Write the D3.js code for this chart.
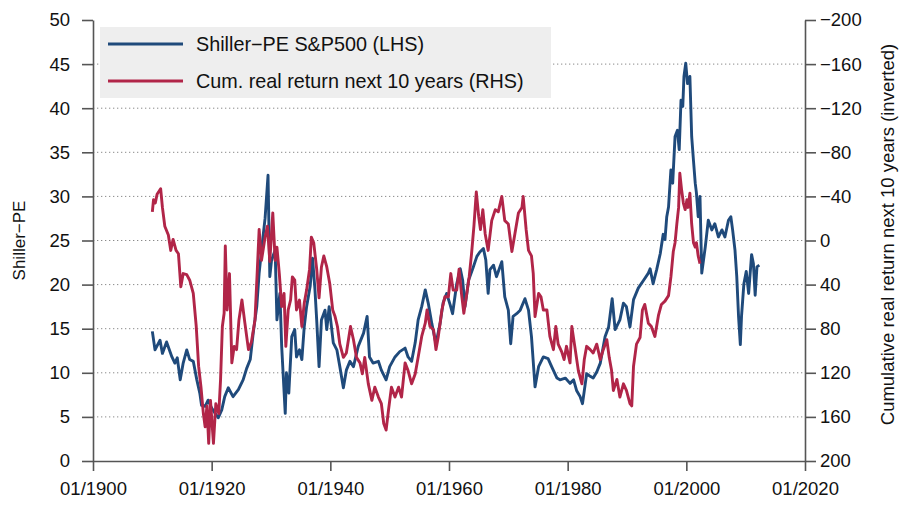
<!DOCTYPE html>
<html lang="en">
<head>
<meta charset="UTF-8">
<title>Shiller PE vs. next 10 years return</title>
<script src="https://d3js.org/d3.v7.min.js"></script>
<style>
  body { margin: 0; background: #fff; }
  text { font-family: "Liberation Sans", Arial, Helvetica, sans-serif; fill: #111; }
</style>
</head>
<body>
<svg id="chart" width="901" height="505"></svg>
<script>
// tick labels
const xTickYears = [1900, 1920, 1940, 1960, 1980, 2000, 2020];
const leftTicks = [0, 5, 10, 15, 20, 25, 30, 35, 40, 45, 50];
const rightTicks = [-200, -160, -120, -80, -40, 0, 40, 80, 120, 160, 200];

// Shiller-PE S&P500 (decimal year, PE)
const peYears = [1910.0, 1910.45, 1911.3, 1911.7, 1912.4, 1913.3, 1913.8, 1914.2, 1914.7, 1915.2, 1915.8, 1916.3, 1916.9, 1917.5, 1918.0, 1918.3, 1918.9, 1919.4, 1920.0, 1920.6, 1921.1, 1921.7, 1922.2, 1922.8, 1923.6, 1924.5, 1925.3, 1925.9, 1926.5, 1927.0, 1927.6, 1928.0, 1928.6, 1929.0, 1929.5, 1929.8, 1930.1, 1930.7, 1931.0, 1931.5, 1931.8, 1932.4, 1932.6, 1933.0, 1933.5, 1934.0, 1934.3, 1934.8, 1935.2, 1935.6, 1936.0, 1936.6, 1937.0, 1937.4, 1937.7, 1938.1, 1938.5, 1939.1, 1939.4, 1939.8, 1940.5, 1941.1, 1941.6, 1942.2, 1942.7, 1943.3, 1943.9, 1944.7, 1945.6, 1946.2, 1946.6, 1947.2, 1948.1, 1948.6, 1949.4, 1950.0, 1950.9, 1951.7, 1952.6, 1953.1, 1953.7, 1954.3, 1954.8, 1955.4, 1956.0, 1956.5, 1957.1, 1957.8, 1958.5, 1959.0, 1959.6, 1960.2, 1960.6, 1961.3, 1961.9, 1962.3, 1962.7, 1963.3, 1964.1, 1964.7, 1965.2, 1965.8, 1966.2, 1966.6, 1966.9, 1967.5, 1968.0, 1968.9, 1969.4, 1970.0, 1970.4, 1970.8, 1971.4, 1972.0, 1972.8, 1973.4, 1973.9, 1974.5, 1975.1, 1975.9, 1976.7, 1977.3, 1978.2, 1978.7, 1979.6, 1980.4, 1981.0, 1981.5, 1982.1, 1982.5, 1983.2, 1983.8, 1984.3, 1984.9, 1985.5, 1986.3, 1986.9, 1987.5, 1988.0, 1988.8, 1989.4, 1989.9, 1990.5, 1991.1, 1991.9, 1992.8, 1993.6, 1993.9, 1994.4, 1995.0, 1995.6, 1996.1, 1996.4, 1996.7, 1997.0, 1997.4, 1997.7, 1998.1, 1998.5, 1998.8, 1999.1, 1999.4, 1999.6, 1999.9, 2000.2, 2000.6, 2000.9, 2001.2, 2001.5, 2001.7, 2002.0, 2002.3, 2002.6, 2002.9, 2003.2, 2003.7, 2004.3, 2004.8, 2005.4, 2006.0, 2006.5, 2007.1, 2007.5, 2007.8, 2008.2, 2008.5, 2008.8, 2009.1, 2009.3, 2009.7, 2010.1, 2010.5, 2011.0, 2011.3, 2011.6, 2011.9, 2012.3];
const peValues = [14.7, 12.6, 13.7, 12.2, 13.5, 11.8, 11.1, 11.7, 9.2, 11.1, 12.6, 11.5, 11.3, 9.2, 7.7, 6.3, 6.2, 6.9, 6.0, 5.4, 4.9, 5.8, 7.3, 8.3, 7.3, 8.1, 9.2, 10.5, 11.5, 14.5, 17.5, 21.3, 25.1, 27.5, 32.4, 20.9, 22.8, 23.9, 16.0, 19.0, 13.0, 5.4, 10.0, 7.7, 14.1, 14.9, 11.8, 12.6, 11.5, 15.2, 17.5, 19.8, 23.0, 19.5, 16.0, 10.7, 16.0, 17.1, 14.9, 17.5, 13.4, 12.6, 10.7, 8.3, 10.3, 11.3, 10.7, 13.0, 14.5, 16.4, 11.8, 11.1, 11.3, 10.3, 9.2, 10.7, 11.8, 12.4, 12.8, 11.8, 11.3, 13.4, 16.0, 17.5, 19.4, 17.9, 15.6, 13.3, 15.6, 17.9, 19.0, 17.7, 16.7, 20.1, 21.8, 20.5, 17.5, 20.5, 22.0, 23.2, 23.7, 24.1, 22.8, 19.0, 21.7, 22.2, 20.9, 22.6, 18.6, 17.1, 13.3, 16.4, 16.7, 17.1, 18.4, 17.1, 14.1, 8.4, 10.7, 11.8, 11.6, 10.7, 9.4, 9.2, 9.4, 8.8, 9.2, 8.0, 7.3, 6.5, 9.9, 9.6, 9.4, 10.1, 11.1, 14.1, 15.2, 18.4, 14.9, 16.0, 17.9, 17.5, 15.2, 18.3, 19.6, 20.5, 21.3, 21.8, 20.1, 21.7, 23.5, 25.7, 25.1, 27.7, 28.8, 33.0, 31.5, 36.8, 37.5, 35.3, 40.9, 40.2, 43.6, 45.1, 42.8, 43.6, 36.8, 34.1, 31.5, 30.4, 27.7, 30.0, 21.3, 22.8, 24.3, 27.3, 26.2, 26.9, 25.4, 26.2, 25.4, 27.3, 27.7, 26.2, 23.9, 20.9, 16.4, 13.2, 16.4, 20.1, 21.5, 19.0, 23.4, 22.4, 18.8, 22.0, 22.2];

// cumulative real return over the next 10 years in %
const retYears = [1910.0, 1910.2, 1910.5, 1910.8, 1911.4, 1911.7, 1912.1, 1912.7, 1913.1, 1913.5, 1914.0, 1914.4, 1914.8, 1915.2, 1915.8, 1916.3, 1916.9, 1917.4, 1917.8, 1918.2, 1918.6, 1918.9, 1919.2, 1919.5, 1919.8, 1920.3, 1920.7, 1921.2, 1921.5, 1921.8, 1922.1, 1922.3, 1922.6, 1923.0, 1923.4, 1923.8, 1924.2, 1924.6, 1925.1, 1925.6, 1926.2, 1926.7, 1927.3, 1927.7, 1928.0, 1928.4, 1929.0, 1929.4, 1929.8, 1930.3, 1930.7, 1931.0, 1931.4, 1931.8, 1932.2, 1932.5, 1932.9, 1933.3, 1933.6, 1934.0, 1934.3, 1934.8, 1935.2, 1935.6, 1936.0, 1936.5, 1936.8, 1937.2, 1937.7, 1938.1, 1938.5, 1938.9, 1939.4, 1939.9, 1940.4, 1940.8, 1941.2, 1941.6, 1942.2, 1942.7, 1943.4, 1943.9, 1944.4, 1945.0, 1945.4, 1945.8, 1946.4, 1947.0, 1947.5, 1948.1, 1948.6, 1949.0, 1949.4, 1949.8, 1950.3, 1950.9, 1951.5, 1952.0, 1952.6, 1953.1, 1953.7, 1954.3, 1954.8, 1955.4, 1956.0, 1956.3, 1956.8, 1957.4, 1957.8, 1958.2, 1958.8, 1959.3, 1959.9, 1960.3, 1960.7, 1961.3, 1961.7, 1962.1, 1962.5, 1963.0, 1963.4, 1963.8, 1964.2, 1964.6, 1965.0, 1965.3, 1965.7, 1966.1, 1966.6, 1967.2, 1967.8, 1968.3, 1968.9, 1969.4, 1970.0, 1970.6, 1971.1, 1971.7, 1972.3, 1972.5, 1973.0, 1973.4, 1973.9, 1974.2, 1974.5, 1975.1, 1975.5, 1975.9, 1976.5, 1977.0, 1977.6, 1978.0, 1978.4, 1979.0, 1979.4, 1979.8, 1980.4, 1980.7, 1981.2, 1981.8, 1982.4, 1982.8, 1983.2, 1983.8, 1984.3, 1984.9, 1985.5, 1986.0, 1986.6, 1987.0, 1987.4, 1987.7, 1988.3, 1988.8, 1989.4, 1989.9, 1990.5, 1990.8, 1991.1, 1991.6, 1992.2, 1992.6, 1993.0, 1993.6, 1994.1, 1994.7, 1995.3, 1995.8, 1996.4, 1997.0, 1997.4, 1997.8, 1998.1, 1998.4, 1998.7, 1998.9, 1999.2, 1999.5, 1999.8, 2000.1, 2000.3, 2000.6, 2000.9, 2001.2, 2001.5, 2001.7, 2002.0, 2002.3];
const retValues = [-26, -37, -34, -42, -47, -30, -13, -5, 9, -1, 9, 12, 42, 30, 31, 36, 48, 78, 114, 133, 157, 169, 150, 184, 145, 184, 148, 157, 126, 78, 66, 5, 63, 30, 111, 96, 99, 72, 54, 75, 99, 92, 72, 26, -10, 18, -3, -13, 19, -25, 18, 6, 30, 60, 48, 96, 63, 54, 33, 36, 63, 54, 78, 57, 45, 26, -3, 2, 26, 52, 24, 14, 24, 39, 63, 69, 78, 94, 106, 102, 78, 90, 106, 111, 121, 106, 130, 145, 133, 142, 148, 166, 172, 154, 133, 142, 133, 142, 111, 118, 130, 121, 106, 87, 75, 63, 78, 81, 99, 87, 63, 51, 51, 30, 45, 45, 26, 48, 66, 48, 33, 12, -13, -44, -22, -10, -28, -6, 9, -18, -28, -26, -40, -18, -15, 10, -6, -25, -30, -40, -10, 9, 14, 30, 69, 48, 51, 63, 63, 87, 99, 78, 94, 101, 108, 96, 111, 78, 96, 118, 130, 108, 96, 99, 102, 94, 108, 99, 90, 106, 118, 136, 126, 142, 130, 136, 148, 150, 114, 94, 88, 63, 58, 75, 78, 87, 68, 58, 55, 50, 33, 10, 2, -15, -30, -61, -46, -34, -28, -37, -30, -43, -15, 2, 6, 2, 14, 21];

const seriesNames = ["Shiller\u2212PE S&P500 (LHS)", "Cum. real return next 10 years (RHS)"];
const colors = ["#1f4a7b", "#b12548"];

const svg = d3.select("#chart");
const plotLeft = 93, plotRight = 805, plotTop = 20, plotBottom = 461;

const x = d3.scaleLinear().domain([1900, 2020]).range([plotLeft, plotRight]);
const yL = d3.scaleLinear().domain([0, 50]).range([plotBottom, plotTop]);
const yR = d3.scaleLinear().domain([200, -200]).range([plotBottom, plotTop]);

// dotted grid
svg.append("g")
  .selectAll("line")
  .data(leftTicks.filter(d => d > 0 && d < 50))
  .join("line")
    .attr("x1", plotLeft).attr("x2", plotRight)
    .attr("y1", d => yL(d)).attr("y2", d => yL(d))
    .attr("stroke", "#8a8a8a")
    .attr("stroke-width", 1)
    .attr("stroke-dasharray", "1.3,2.7");

const axisColor = "#555";

function styleAxis(g) {
  g.selectAll(".domain").attr("stroke", axisColor).attr("stroke-width", 1.6);
  g.selectAll(".tick line").attr("stroke", axisColor).attr("stroke-width", 1.6);
  g.selectAll(".tick text").attr("fill", "#111").style("font-size", "18.5px")
    .style("font-family", '"Liberation Sans", Arial, sans-serif');
}

// left axis
svg.append("g")
  .attr("transform", `translate(${plotLeft},0)`)
  .call(d3.axisLeft(yL).tickValues(leftTicks).tickSize(11).tickPadding(12).tickSizeOuter(0))
  .call(styleAxis);

// right axis
svg.append("g")
  .attr("transform", `translate(${plotRight},0)`)
  .call(d3.axisRight(yR).tickValues(rightTicks).tickSize(11).tickPadding(4).tickSizeOuter(0)
    .tickFormat(d => d < 0 ? "\u2212" + Math.abs(d) : d))
  .call(styleAxis);

// bottom axis
svg.append("g")
  .attr("transform", `translate(0,${plotBottom})`)
  .call(d3.axisBottom(x).tickValues(xTickYears).tickSize(10).tickPadding(11).tickSizeOuter(0)
    .tickFormat(d => "01/" + d))
  .call(styleAxis);

// axis titles
svg.append("text")
  .attr("transform", `translate(25,${(plotTop + plotBottom) / 2}) rotate(-90)`)
  .attr("text-anchor", "middle")
  .style("font-size", "17px")
  .text("Shiller\u2212PE");

svg.append("text")
  .attr("transform", `translate(894,${(plotTop + plotBottom) / 2 - 6}) rotate(-90)`)
  .attr("text-anchor", "middle")
  .style("font-size", "18.5px")
  .text("Cumulative real return next 10 years (inverted)");

// lines
const peLine = d3.line()
  .x((d, i) => x(peYears[i]))
  .y(d => yL(d));
const retLine = d3.line()
  .x((d, i) => x(retYears[i]))
  .y(d => yR(d));

svg.append("path")
  .datum(peValues)
  .attr("fill", "none")
  .attr("stroke", colors[0])
  .attr("stroke-width", 2.9)
  .attr("stroke-linejoin", "round")
  .attr("d", peLine);

svg.append("path")
  .datum(retValues)
  .attr("fill", "none")
  .attr("stroke", colors[1])
  .attr("stroke-width", 2.9)
  .attr("stroke-linejoin", "round")
  .attr("d", retLine);

// legend
const legend = svg.append("g");
legend.append("rect")
  .attr("x", 100).attr("y", 27).attr("width", 451).attr("height", 71)
  .attr("fill", "#eeeeee");
seriesNames.forEach((name, i) => {
  const ly = 44 + i * 37;
  legend.append("line")
    .attr("x1", 108).attr("x2", 183).attr("y1", ly).attr("y2", ly)
    .attr("stroke", colors[i]).attr("stroke-width", 2.9);
  legend.append("text")
    .attr("x", 196).attr("y", ly + 7)
    .style("font-size", "19.8px")
    .text(name);
});
</script>
</body>
</html>
